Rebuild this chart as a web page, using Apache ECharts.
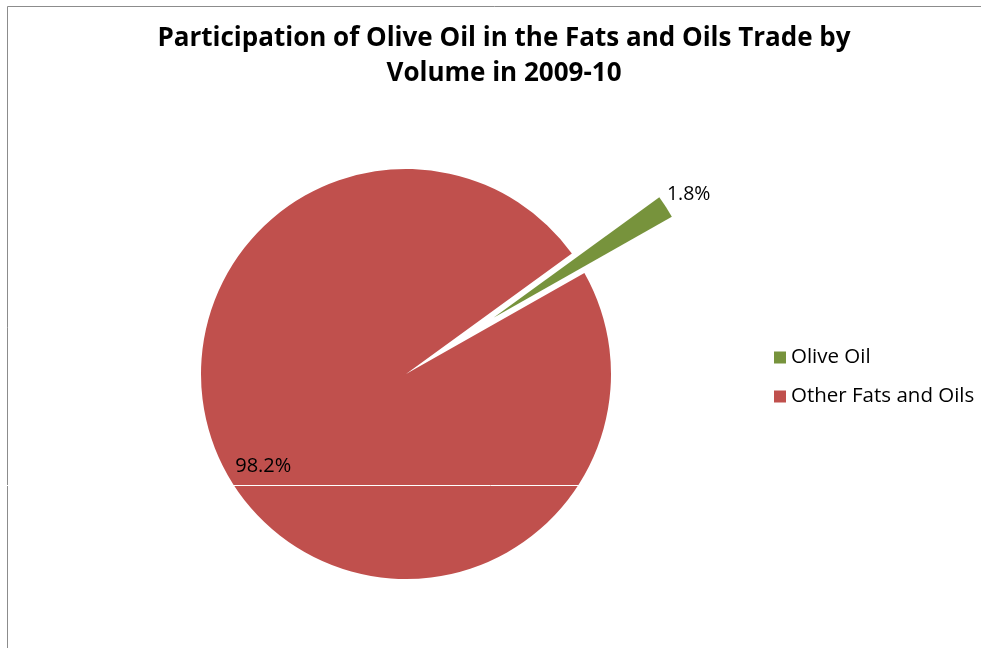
<!DOCTYPE html>
<html>
<head>
<meta charset="utf-8">
<script src="https://cdn.jsdelivr.net/npm/echarts@6/dist/echarts.min.js"></script>
<style>
html,body{margin:0;padding:0;background:#fff;}
#chart{width:981px;height:648px;}
</style>
</head>
<body>
<div id="chart"></div>
<script>
const categories = ['Olive Oil', 'Other Fats and Oils'];
const shares = [1.8, 98.2];
const sliceColors = ['#77933C', '#C0504D'];
const titleText = 'Participation of Olive Oil in the Fats and Oils Trade by\nVolume in 2009-10';

const chart = echarts.init(document.getElementById('chart'), null, {renderer: 'canvas'});
const fontFam = '"Open Sans", "Noto Sans", sans-serif';

chart.setOption({
  animation: false,
  backgroundColor: '#fff',
  title: {
    text: titleText,
    left: 499,
    textAlign: 'center',
    top: 16,
    textStyle: {
      fontFamily: fontFam,
      fontWeight: 'bold',
      fontSize: 26,
      lineHeight: 35,
      color: '#000'
    }
  },
  legend: {
    orient: 'vertical',
    left: 769,
    top: 342,
    itemWidth: 12,
    itemHeight: 12,
    itemGap: 18,
    icon: 'rect',
    selectedMode: false,
    data: categories,
    textStyle: {
      fontFamily: fontFam,
      fontSize: 20.5,
      lineHeight: 21,
      color: '#000'
    }
  },
  graphic: [
    {
      type: 'rect',
      z: 100,
      silent: true,
      shape: {x: 7.5, y: 6.5, width: 1100, height: 800},
      style: {fill: 'none', stroke: '#8c8c8c', lineWidth: 1}
    },
    {
      type: 'line',
      z: 101,
      silent: true,
      shape: {x1: 0, y1: 485.5, x2: 981, y2: 485.5},
      style: {stroke: '#ffffff', lineWidth: 1}
    }
  ],
  series: [{
    type: 'pie',
    center: [406, 374],
    radius: [0, 205],
    startAngle: 36,
    clockwise: true,
    selectedMode: 'single',
    selectedOffset: 104,
    avoidLabelOverlap: false,
    emphasis: {disabled: true},
    select: {itemStyle: {borderWidth: 0}},
    itemStyle: {borderWidth: 0},
    labelLayout: function (params) {
      if (params.dataIndex === 1) {
        return {dx: -54, dy: 35};
      }
      return {dx: -14, dy: -6};
    },
    data: categories.map((name, i) => ({
      name: name,
      value: shares[i],
      selected: i === 0,
      itemStyle: {color: sliceColors[i]},
      label: i === 0 ? {
        show: true,
        position: 'outside',
        formatter: '{c}%',
        fontFamily: fontFam,
        fontSize: 19.5,
        color: '#000'
      } : {
        show: true,
        position: 'inside',
        formatter: '{c}%',
        fontFamily: fontFam,
        fontSize: 20,
        color: '#000'
      },
      labelLine: {show: false, length: 12, length2: 0}
    }))
  }]
});
</script>
</body>
</html>
